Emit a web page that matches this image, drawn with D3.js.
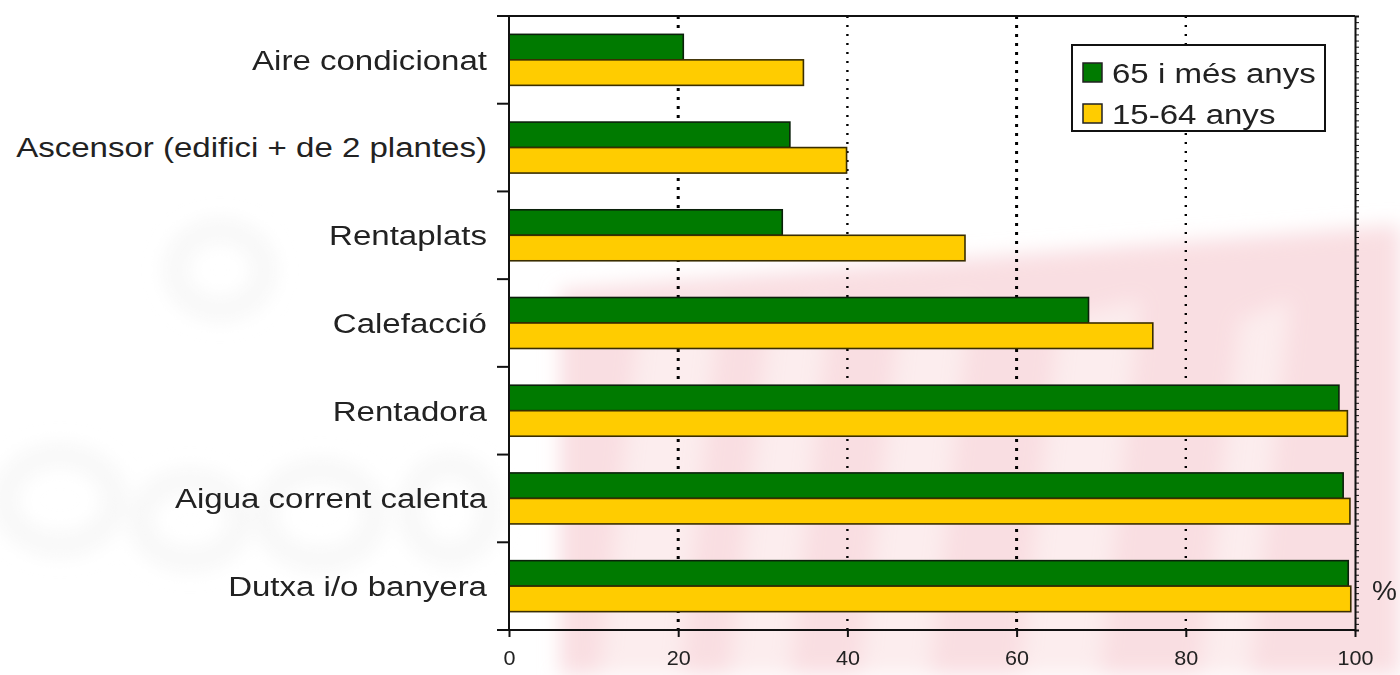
<!DOCTYPE html>
<html>
<head>
<meta charset="utf-8">
<script src="https://cdn.jsdelivr.net/npm/d3@7"></script>
<style>
  body { margin: 0; background: #fff; }
  svg { display: block; font-family: "Liberation Sans", Arial, sans-serif; }
</style>
</head>
<body>
<svg id="chart" width="1400" height="675"></svg>
<script>
// categories top -> bottom
const categories = [
    "Aire condicionat",
    "Ascensor (edifici + de 2 plantes)",
    "Rentaplats",
    "Calefacció",
    "Rentadora",
    "Aigua corrent calenta",
    "Dutxa i/o banyera"
];
const seriesNames = ["65 i més anys", "15-64 anys"];
const olderValues = [20.6, 33.2, 32.3, 68.5, 98.1, 98.6, 99.2];
const youngerValues = [34.8, 39.9, 53.9, 76.1, 99.1, 99.4, 99.5];
const xTicks = [0, 20, 40, 60, 80, 100];
const colors = ["#007a00", "#ffcc00"];

const svg = d3.select("#chart");
const m = { top: 16, right: 45, bottom: 45, left: 509 };
const W = 1400, H = 675;
const stretch = 1.18; // the original font is a little wider than Liberation Sans
const x = d3.scaleLinear().domain([0, 100]).range([m.left, W - m.right]);
const y = d3.scaleBand().domain(categories).range([m.top, H - m.bottom]).padding(0);
const ySub = d3.scaleBand().domain(seriesNames).range([0, y.bandwidth()]).paddingInner(0).paddingOuter(0.72);

// faint watermark behind everything
const defs = svg.append("defs");
defs.append("filter").attr("id", "blur").append("feGaussianBlur").attr("stdDeviation", 10);
const wm = svg.append("g").attr("filter", "url(#blur)");
wm.append("path")
    .attr("d", "M560,290 L1400,225 L1400,675 L560,675 Z")
    .attr("fill", "#f8d6db").attr("opacity", 0.8);
[[640, 80], [770, 60], [900, 70], [1060, 80], [1240, 50]].forEach(([sx, sw]) => {
    wm.append("path")
        .attr("d", `M${sx},320 L${sx + sw},300 L${sx + sw - 40},675 L${sx - 40},675 Z`)
        .attr("fill", "#fdf3f4").attr("opacity", 0.7);
});
[[60, 500, 55, 45], [190, 520, 50, 40], [320, 515, 55, 45], [450, 510, 40, 45], [220, 270, 45, 40]].forEach(([cx, cy, rx, ry]) => {
    wm.append("ellipse").attr("cx", cx).attr("cy", cy).attr("rx", rx).attr("ry", ry)
        .attr("fill", "none").attr("stroke", "#f6f6f6").attr("stroke-width", 20);
});

// dotted gridlines
svg.append("g").selectAll("line").data(xTicks.filter(d => d > 0 && d < 100)).enter()
    .append("line")
    .attr("x1", d => x(d)).attr("x2", d => x(d))
    .attr("y1", m.top).attr("y2", H - m.bottom)
    .attr("stroke", "#000")
    .attr("stroke-width", d => d % 40 === 20 ? 3 : 2.4)
    .attr("stroke-dasharray", d => d % 40 === 20 ? "3,6" : "2,7");

// bars
const groups = svg.append("g").selectAll("g").data(categories).enter().append("g")
    .attr("transform", d => `translate(0,${y(d)})`);

groups.selectAll("rect").data((d, i) => [
        { s: seriesNames[0], v: olderValues[i], c: colors[0] },
        { s: seriesNames[1], v: youngerValues[i], c: colors[1] }
    ]).enter()
    .append("rect")
    .attr("x", x(0))
    .attr("y", d => ySub(d.s))
    .attr("width", d => x(d.v) - x(0))
    .attr("height", ySub.bandwidth())
    .attr("fill", d => d.c)
    .attr("stroke", d => d.s === seriesNames[0] ? "#0b200b" : "#3a2e00")
    .attr("stroke-width", 1.6);

// axes
const xAxis = svg.append("g").attr("transform", `translate(0,${H - m.bottom})`)
    .call(d3.axisBottom(x).tickValues(xTicks).tickSize(7).tickPadding(14));
xAxis.select(".domain").attr("stroke", "#111").attr("stroke-width", 2)
    .attr("d", `M${m.left - 12},0H${W - m.right}`);
xAxis.selectAll(".tick line").attr("stroke", "#111").attr("stroke-width", 2);
xAxis.selectAll("text").attr("font-size", 20).attr("fill", "#222")
    .attr("transform", "scale(1.08,1)");

// left axis: ticks at band edges
const bandEdges = categories.map(c => y(c)).concat([H - m.bottom]);
const left = svg.append("g");
left.append("line").attr("x1", m.left).attr("x2", m.left)
    .attr("y1", m.top).attr("y2", H - m.bottom)
    .attr("stroke", "#111").attr("stroke-width", 2);
left.selectAll("line.t").data(bandEdges).enter().append("line").attr("class", "t")
    .attr("x1", m.left - 12).attr("x2", m.left).attr("y1", d => d).attr("y2", d => d)
    .attr("stroke", "#111").attr("stroke-width", 2);
left.selectAll("text").data(categories).enter().append("text")
    .attr("transform", d => `translate(487,${y(d) + y.bandwidth() / 2}) scale(${stretch},1)`)
    .attr("dy", "0.35em").attr("text-anchor", "end")
    .attr("font-size", 28).attr("fill", "#222")
    .text(d => d);

// top frame line
svg.append("line").attr("x1", m.left - 12).attr("x2", x(100))
    .attr("y1", m.top).attr("y2", m.top).attr("stroke", "#111").attr("stroke-width", 2);

// right axis with minor ticks
const yMinor = d3.scaleLinear().domain([0, 100]).range([H - m.bottom, m.top]);
const right = svg.append("g").attr("transform", `translate(${x(100)},0)`)
    .call(d3.axisRight(yMinor).ticks(100).tickSize(4).tickFormat(""));
right.select(".domain").attr("stroke", "#111").attr("stroke-width", 2);
right.selectAll(".tick line").attr("stroke", "#111").attr("stroke-width", 1);

svg.append("text")
    .attr("transform", `translate(1372,${y(categories[6]) + y.bandwidth() / 2 + 14})`)
    .attr("font-size", 28).attr("fill", "#222")
    .text("%");

// legend
const lg = svg.append("g").attr("transform", "translate(1072,45)");
lg.append("rect").attr("width", 253).attr("height", 86)
    .attr("fill", "#fff").attr("stroke", "#111").attr("stroke-width", 2);
seriesNames.forEach((s, i) => {
    lg.append("rect").attr("x", 11).attr("y", 18 + i * 41).attr("width", 19).attr("height", 19)
        .attr("fill", colors[i]).attr("stroke", "#222").attr("stroke-width", 1.5);
    lg.append("text")
        .attr("transform", `translate(40,${28 + i * 41}) scale(${stretch},1)`)
        .attr("dy", "0.35em")
        .attr("font-size", 28).attr("fill", "#222").text(s);
});
</script>
</body>
</html>
